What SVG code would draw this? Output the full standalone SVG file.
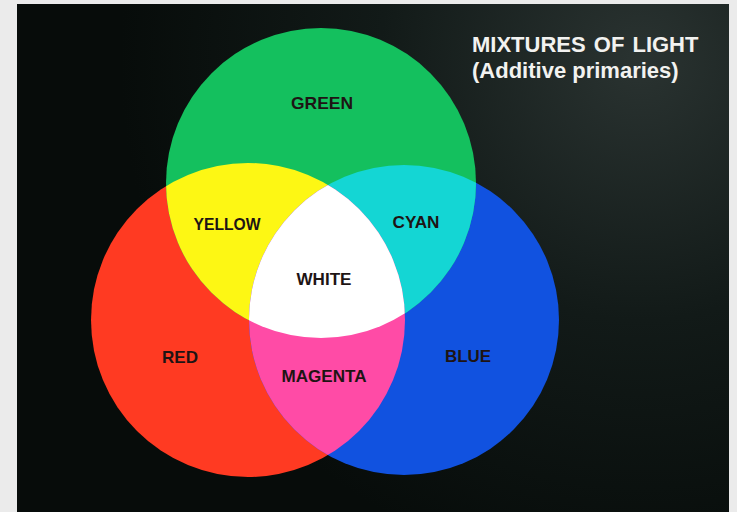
<svg xmlns="http://www.w3.org/2000/svg" width="737" height="512" viewBox="0 0 737 512">
  <defs>
    <radialGradient id="bg" cx="640" cy="60" r="520" gradientUnits="userSpaceOnUse">
      <stop offset="0" stop-color="#2a3331"/>
      <stop offset="0.5" stop-color="#121a18"/>
      <stop offset="1" stop-color="#070c0a"/>
    </radialGradient>
    <clipPath id="cR"><circle cx="248" cy="320" r="157"/></clipPath>
    <clipPath id="cG"><circle cx="321" cy="183" r="155"/></clipPath>
    <clipPath id="cB"><circle cx="404" cy="320" r="155"/></clipPath>
    <style>
      .lbl { font-family: "Liberation Sans", Arial, sans-serif; font-weight: bold; font-size: 17px; fill: #1e1414; text-anchor: middle; }
      .ttl { font-family: "Liberation Sans", Arial, sans-serif; font-weight: bold; font-size: 22px; fill: #f2f2f0; }
    </style>
  </defs>
  <rect x="0" y="0" width="737" height="512" fill="#ebebeb"/>
  <rect x="17" y="4" width="712" height="508" fill="url(#bg)"/>

  <g id="red"><circle cx="248" cy="320" r="157" fill="#ff3a22"/></g>
  <g id="blue"><circle cx="404" cy="320" r="155" fill="#1152e0"/></g>
  <g id="green"><circle cx="321" cy="183" r="155" fill="#14c05e"/></g>
  <g id="yellow" clip-path="url(#cR)"><circle cx="321" cy="183" r="155" fill="#fdf714"/></g>
  <g id="cyan" clip-path="url(#cB)"><circle cx="321" cy="183" r="155" fill="#14d6d4"/></g>
  <g id="magenta" clip-path="url(#cR)"><circle cx="404" cy="320" r="155" fill="#ff4ba6"/></g>
  <g id="white" clip-path="url(#cR)"><g clip-path="url(#cB)"><circle cx="321" cy="183" r="155" fill="#ffffff"/></g></g>

  <g id="labels">
    <text class="lbl" x="322" y="109" textLength="62" lengthAdjust="spacingAndGlyphs">GREEN</text>
    <text class="lbl" x="227" y="230" textLength="67" lengthAdjust="spacingAndGlyphs">YELLOW</text>
    <text class="lbl" x="416" y="228" textLength="47" lengthAdjust="spacingAndGlyphs">CYAN</text>
    <text class="lbl" x="324" y="285" textLength="55" lengthAdjust="spacingAndGlyphs">WHITE</text>
    <text class="lbl" x="180" y="363" textLength="36" lengthAdjust="spacingAndGlyphs">RED</text>
    <text class="lbl" x="324" y="382" textLength="85" lengthAdjust="spacingAndGlyphs">MAGENTA</text>
    <text class="lbl" x="468" y="362" textLength="46" lengthAdjust="spacingAndGlyphs">BLUE</text>
  </g>

  <g id="title">
    <text class="ttl" x="472" y="52" word-spacing="2">MIXTURES OF LIGHT</text>
    <text class="ttl" x="472" y="78">(Additive primaries)</text>
  </g>
</svg>
